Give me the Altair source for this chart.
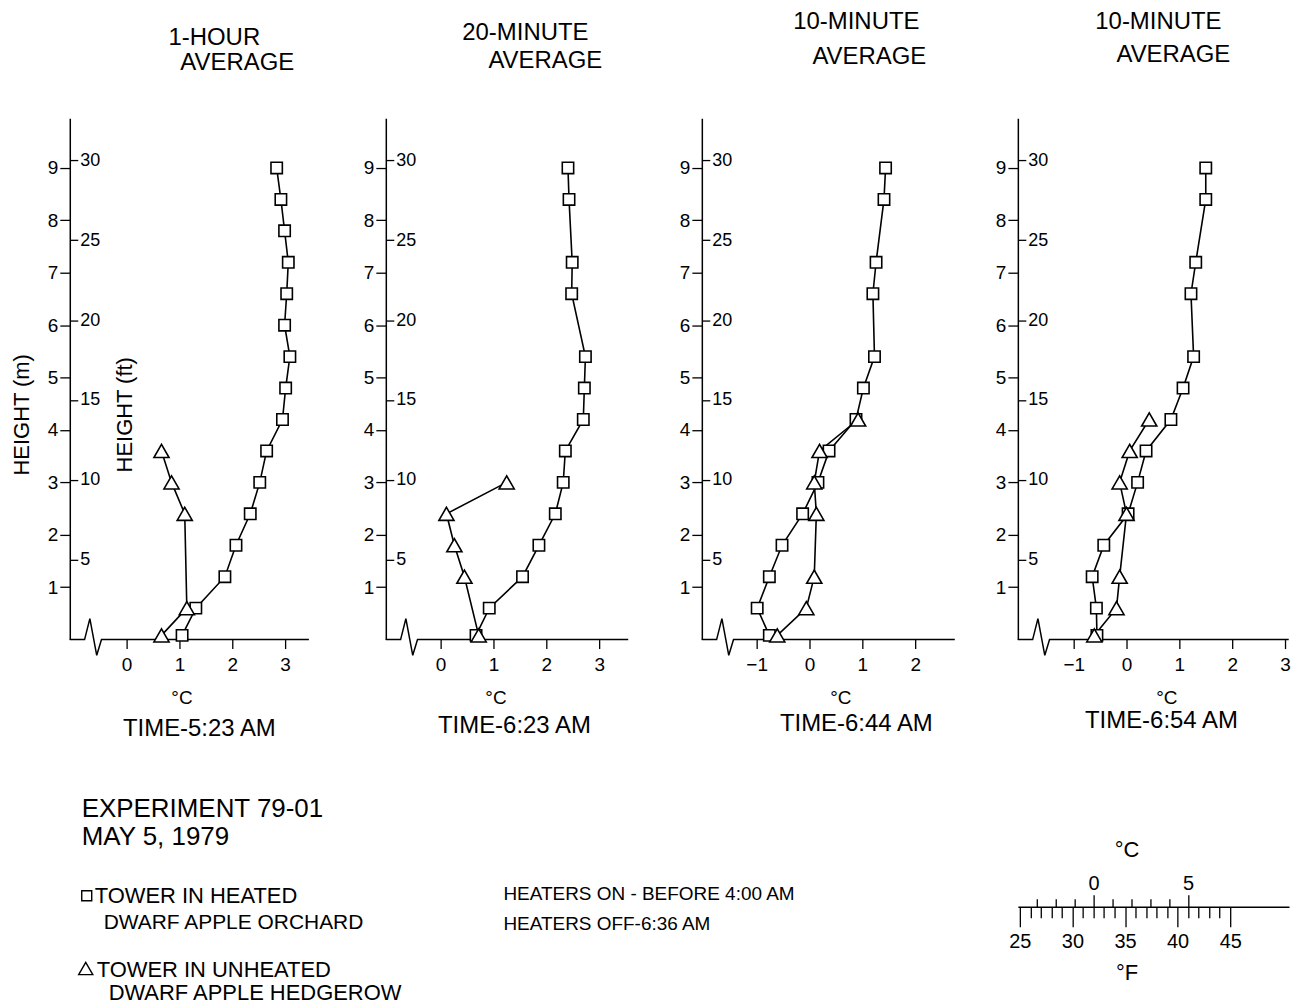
import altair as alt
import pandas as pd

FONT = "Liberation Sans"
M_TO_FT = 3.28084

# ---------------- data ----------------
heights_full = [0.08, 0.6, 1.2, 1.8, 2.4, 3.0, 3.6, 4.2, 4.8, 5.4, 6.0, 6.6, 7.2, 7.8, 8.4, 9.0]
heights_part = [0.08, 0.6, 1.2, 1.8, 2.4, 3.0, 3.6, 4.2, 4.8, 5.4, 6.6, 7.2, 8.4, 9.0]

p1_heated_t = [1.05, 1.31, 1.86, 2.07, 2.34, 2.52, 2.65, 2.95, 3.01, 3.09, 2.99, 3.03, 3.06, 2.99, 2.92, 2.84]
p1_unheated_h = [0.08, 0.6, 2.4, 3.0, 3.6]
p1_unheated_t = [0.66, 1.14, 1.10, 0.85, 0.66]

p2_heated_t = [0.67, 0.92, 1.55, 1.86, 2.17, 2.32, 2.36, 2.70, 2.72, 2.74, 2.48, 2.49, 2.43, 2.41]
p2_unheated_h = [0.08, 1.2, 1.8, 2.4, 3.0]
p2_unheated_t = [0.72, 0.45, 0.26, 0.11, 1.25]

p3_heated_t = [-0.76, -0.99, -0.76, -0.52, -0.13, 0.16, 0.37, 0.88, 1.02, 1.23, 1.20, 1.26, 1.41, 1.44]
p3_unheated_h = [0.08, 0.6, 1.2, 2.4, 3.0, 3.6, 4.2]
p3_unheated_t = [-0.61, -0.06, 0.09, 0.13, 0.09, 0.19, 0.92]

p4_heated_t = [-0.56, -0.57, -0.65, -0.43, 0.03, 0.21, 0.37, 0.84, 1.07, 1.27, 1.22, 1.31, 1.50, 1.50]
p4_unheated_h = [0.08, 0.6, 1.2, 2.4, 3.0, 3.6, 4.2]
p4_unheated_t = [-0.61, -0.19, -0.13, 0.00, -0.13, 0.06, 0.43]

panel_titles = [("1-HOUR", "AVERAGE"), ("20-MINUTE", "AVERAGE"),
                ("10-MINUTE", "AVERAGE"), ("10-MINUTE", "AVERAGE")]
panel_times = ["TIME-5:23 AM", "TIME-6:23 AM", "TIME-6:44 AM", "TIME-6:54 AM"]
panel_xticks = [[0, 1, 2, 3], [0, 1, 2, 3], [-1, 0, 1, 2], [-1, 0, 1, 2, 3]]
m_ticks = [1, 2, 3, 4, 5, 6, 7, 8, 9]
ft_ticks = [5, 10, 15, 20, 25, 30]

# axis-break zigzag (offsets from the left end of each x axis)
break_dx = [0.0, 0.28, 0.38, 0.51, 0.60]
break_dy = [0.0, 0.0, 0.40, -0.30, 0.0]

# conversion scale ticks
f_ticks = list(range(25, 46))
c_ticks = list(range(-4, 6))

notes_left = ["EXPERIMENT 79-01", "MAY 5, 1979"]
legend_lines = ["TOWER IN HEATED", "DWARF APPLE ORCHARD", "TOWER IN UNHEATED", "DWARF APPLE HEDGEROW"]
heater_lines = ["HEATERS ON - BEFORE 4:00 AM", "HEATERS OFF-6:36 AM"]

# ---------------- layout ----------------
W, H = 272, 523
Y_DOM = [0, 9.95]
ONE = pd.DataFrame({"k": [0]})

x_domains = [[-1.0755, 4.0566], [-1.0377, 4.0943], [-2.0377, 3.0943], [-2.0566, 3.0755]]
axis_ends = [3.45, 3.55, 2.75, 3.07]
ctitle_x = [112, 110, 139, 149]
time_x = [130, 129, 155, 144]
time_y = [613, 610, 608, 605]
title_pos = [((145, -80), (168, -55)), ((140, -85), (160, -57)),
             ((155, -96), (168, -61)), ((141, -96), (156, -63))]

panels_data = [
    (heights_full, p1_heated_t, p1_unheated_h, p1_unheated_t),
    (heights_part, p2_heated_t, p2_unheated_h, p2_unheated_t),
    (heights_part, p3_heated_t, p3_unheated_h, p3_unheated_t),
    (heights_part, p4_heated_t, p4_unheated_h, p4_unheated_t),
]


def txt(s, x, y, size, align="center"):
    return alt.Chart(ONE).mark_text(
        text=s, align=align, baseline="middle", fontSize=size, font=FONT, color="black"
    ).encode(x=alt.value(x), y=alt.value(y))


def notes_layers():
    sq = alt.Chart(ONE).mark_point(shape="square", size=100, filled=True, fill="white", stroke="black",
                                   strokeWidth=1.4, opacity=1).encode(x=alt.value(17), y=alt.value(780))
    tri = alt.Chart(ONE).mark_point(shape="triangle-up", size=200, filled=True, fill="white",
                                    stroke="black", strokeWidth=1.4, opacity=1).encode(
        x=alt.value(16), y=alt.value(853))
    return [
        txt(notes_left[0], 12, 693, 26, "left"),
        txt(notes_left[1], 12, 721, 26, "left"),
        sq, txt(legend_lines[0], 25, 780, 22, "left"),
        txt(legend_lines[1], 34, 807, 21, "left"),
        tri, txt(legend_lines[2], 27, 854, 22, "left"),
        txt(legend_lines[3], 39, 878, 22, "left"),
        txt(heater_lines[0], 435, 778, 19, "left"),
        txt(heater_lines[1], 435, 808, 19, "left"),
    ]


def conversion_layers():
    line_y = 268          # below the panel's baseline
    f_dom = [24.81, 50.59]
    c_dom = [(f_dom[0] - 32) / 1.8, (f_dom[1] - 32) / 1.8]
    fahr = alt.Chart(pd.DataFrame({"f": f_ticks})).mark_point(opacity=0).encode(
        x=alt.X("f:Q", scale=alt.Scale(domain=f_dom, nice=False, zero=False),
                axis=alt.Axis(orient="bottom", offset=line_y, values=f_ticks,
                              tickSize={"condition": {"test": "datum.value % 5 === 0", "value": 20},
                                        "value": 11},
                              labelExpr="datum.value % 5 === 0 ? datum.label : ''",
                              labelPadding=5, labelFontSize=20, domain=True, domainWidth=1.5,
                              title="°F", titleFontSize=22, titleX=109, titleY=66,
                              titleAlign="center", titleBaseline="middle")),
        y=alt.value(0),
    )
    cels = alt.Chart(pd.DataFrame({"c": c_ticks})).mark_point(opacity=0).encode(
        x=alt.X("c:Q", scale=alt.Scale(domain=c_dom, nice=False, zero=False),
                axis=alt.Axis(orient="top", offset=-(H + line_y), values=c_ticks,
                              tickSize={"condition": {"test": "datum.value % 5 === 0", "value": 12},
                                        "value": 8},
                              labelExpr="datum.value % 5 === 0 ? datum.label : ''",
                              labelPadding=1, labelFontSize=20, domain=False,
                              title="°C", titleFontSize=22, titleX=109, titleY=-57,
                              titleAlign="center", titleBaseline="middle")),
        y=alt.value(0),
    )
    return [fahr, cels]


def panel(i):
    hh, ht, uh, ut = panels_data[i]
    heated = pd.DataFrame({"h": hh, "t": ht})
    unheated = pd.DataFrame({"h": uh, "t": ut})
    ftdf = pd.DataFrame({"h": [f / M_TO_FT for f in ft_ticks], "t": [0.0] * len(ft_ticks)})
    x0 = x_domains[i][0]
    base = pd.DataFrame({
        "t": [x0 + d for d in break_dx] + [axis_ends[i]],
        "h": break_dy + [0.0],
        "o": list(range(len(break_dx) + 1)),
    })
    xs = alt.Scale(domain=x_domains[i], nice=False, zero=False)
    ys = alt.Scale(domain=Y_DOM, nice=False, zero=False)
    xaxis = alt.Axis(values=panel_xticks[i], domain=False, tickSize=9, labelPadding=7,
                     labelFontSize=19, title="°C", titleX=ctitle_x[i], titleY=58,
                     titleFontSize=19, titleBaseline="middle", titleAlign="center")
    if i == 0:
        yaxis = alt.Axis(values=m_ticks, tickSize=10, labelPadding=2, labelFontSize=19,
                         title="HEIGHT (m)", titleFontSize=22, titleX=-48, titleY=297,
                         titleAngle=270, titleAlign="center", titleBaseline="middle")
        fttitle = "HEIGHT (ft)"
    else:
        yaxis = alt.Axis(values=m_ticks, tickSize=10, labelPadding=2, labelFontSize=19, title="")
        fttitle = ""
    ftaxis = alt.Axis(orient="right", offset=-W, values=[f / M_TO_FT for f in ft_ticks],
                      labelExpr="format(datum.value * 3.28084, '.0f')",
                      tickSize=8, labelPadding=2, labelFontSize=18, domain=False, title=fttitle,
                      titleFontSize=22, titleX=55, titleY=297, titleAngle=270,
                      titleAlign="center", titleBaseline="middle")
    X0 = alt.X("t:Q", scale=xs, axis=xaxis)
    Xn = alt.X("t:Q", scale=xs, axis=None)
    Y0 = alt.Y("h:Q", scale=ys, axis=yaxis)
    Yn = alt.Y("h:Q", scale=ys, axis=None)

    baseline = alt.Chart(base).mark_line(color="black", strokeWidth=1.5).encode(x=X0, y=Y0, order="o:Q")
    line_h = alt.Chart(heated).mark_line(color="black", strokeWidth=1.6).encode(x=Xn, y=Yn, order="h:Q")
    line_u = alt.Chart(unheated).mark_line(color="black", strokeWidth=1.6).encode(x=Xn, y=Yn, order="h:Q")
    pts_h = alt.Chart(heated).mark_point(shape="square", size=130, filled=True, fill="white",
                                          stroke="black", strokeWidth=1.6, opacity=1).encode(x=Xn, y=Yn)
    pts_u = alt.Chart(unheated).mark_point(shape="triangle-up", size=230, filled=True, fill="white",
                                            stroke="black", strokeWidth=1.6, opacity=1).encode(x=Xn, y=Yn)
    ft_layer = alt.Chart(ftdf).mark_point(opacity=0).encode(
        x=Xn, y=alt.Y("h:Q", scale=ys, axis=ftaxis))

    (t1x, t1y), (t2x, t2y) = title_pos[i]
    layers = [baseline, line_h, line_u, pts_h, pts_u, ft_layer,
              txt(panel_titles[i][0], t1x, t1y, 24),
              txt(panel_titles[i][1], t2x, t2y, 24),
              txt(panel_times[i], time_x[i], time_y[i], 24)]
    if i == 0:
        layers += notes_layers()
    if i == 3:
        layers += conversion_layers()
    return alt.layer(*layers).resolve_scale(x="independent").resolve_axis(
        x="independent", y="independent").properties(width=W, height=H)


chart = alt.hconcat(*[panel(i) for i in range(4)], spacing=45, bounds="flush").properties(
    padding={"left": 10, "top": 8, "right": 0, "bottom": 0}
).configure_view(stroke="transparent").configure_axis(
    labelFont=FONT, titleFont=FONT, labelColor="black", titleColor="black", tickColor="black",
    domainColor="black", tickWidth=1.3, domainWidth=1.5, grid=False, titleFontWeight="normal",
    labelFlush=False, labelOverlap=False
)

chart.save("out.html", embed_options={"renderer": "svg", "actions": False})
